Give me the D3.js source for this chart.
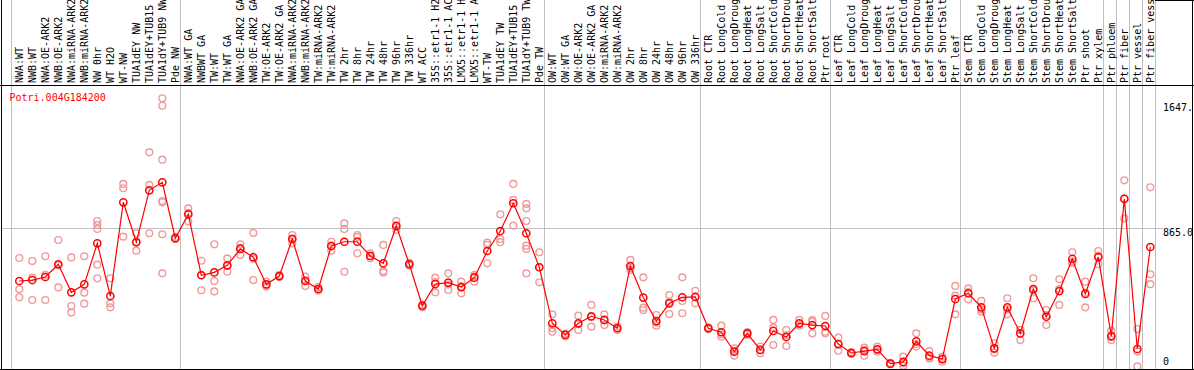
<!DOCTYPE html>
<html>
<head>
<meta charset="utf-8">
<script src="https://cdn.jsdelivr.net/npm/d3@7"></script>
<style>
  body { margin: 0; background: #fff; }
  text { font-family: "DejaVu Sans Mono", monospace; font-size: 10px; }
</style>
</head>
<body>
<svg id="chart" width="1194" height="370"></svg>
<script>
const geneName = "Potri.004G184200"

const categories = [
  "NWA:WT", "NWB:WT", "NWA:OE-ARK2", "NWB:OE-ARK2", "NWA:miRNA-ARK2", "NWB:miRNA-ARK2",
  "NW 0hr", "WT H2O", "WT-NW", "TUA1dEY NW", "TUA1dEY+TUB15 NW", "TUA1dY+TUB9 NW", "Pde NW",
  "NWA:WT GA", "NWBWT GA", "TW:WT", "TW:WT GA", "NWA:OE-ARK2 GA", "NWB:OE-ARK2 GA",
  "TW:OE-ARK2", "TW:OE-ARK2 GA", "NWA:miRNA-ARK2 GA", "NWB:miRNA-ARK2 GA", "TW:miRNA-ARK2",
  "TW:miRNA-ARK2 GA", "TW 2hr", "TW 8hr", "TW 24hr", "TW 48hr", "TW 96hr", "TW 336hr", "WT ACC",
  "35S::etr1-1 H2O", "35S::etr1-1 ACC", "LMX5::etr1-1 H2O", "LMX5::etr1-1 ACC", "WT-TW",
  "TUA1dEY TW", "TUA1dEY+TUB15 TW", "TUA1dY+TUB9 TW", "Pde TW",
  "OW:WT", "OW:WT GA", "OW:OE-ARK2", "OW:OE-ARK2 GA", "OW:miRNA-ARK2", "OW:miRNA-ARK2 GA",
  "OW 2hr", "OW 8hr", "OW 24hr", "OW 48hr", "OW 96hr", "OW 336hr",
  "Root CTR", "Root LongCold", "Root LongDrought", "Root LongHeat", "Root LongSalt",
  "Root ShortCold", "Root ShortDrought", "Root ShortHeat", "Root ShortSalt", "Ptr root",
  "Leaf CTR", "Leaf LongCold", "Leaf LongDrought", "Leaf LongHeat", "Leaf LongSalt",
  "Leaf ShortCold", "Leaf ShortDrought", "Leaf ShortHeat", "Leaf ShortSalt", "Ptr leaf",
  "Stem CTR", "Stem LongCold", "Stem LongDrought", "Stem LongHeat", "Stem LongSalt",
  "Stem ShortCold", "Stem ShortDrought", "Stem ShortHeat", "Stem ShortSalt", "Ptr shoot",
  "Ptr xylem", "Ptr phloem", "Ptr fiber", "Ptr vessel", "Ptr fiber vessel"
]

// mean expression per sample
const means = [
  535, 541, 560, 640, 464, 514, 771, 441, 1028, 779, 1103, 1153, 803,
  953, 571, 589, 633, 736, 684, 514, 566, 798, 535, 485, 754, 781, 781, 692, 646, 880, 640,
  380, 516, 525, 497, 556, 723, 848, 1022, 834, 621,
  270, 197, 270, 314, 291, 239, 629, 431, 284, 395, 433, 435,
  239, 214, 92, 207, 103, 222, 184, 270, 259, 253,
  140, 84, 96, 107, 17, 28, 157, 67, 46, 422,
  458, 370, 113, 370, 207, 485, 311, 472, 673, 454,
  685, 190, 1049, 109, 748
]

// individual replicates per sample
const replicates = [
  [679, 483, 433], [660, 556, 416], [690, 573, 416], [792, 633, 495], [683, 378, 337],
  [690, 462, 393], [911, 886, 861, 637, 552], [552, 395, 370], [1143, 1116, 813],
  [834, 778, 725], [1341, 1137, 834], [1680, 1633, 1295, 1036, 1028, 828, 583], [810, 800, 798],
  [990, 962, 907], [662, 573, 477], [765, 535, 470], [677, 629, 593], [765, 745, 698],
  [836, 675, 541], [531, 511, 500], [572, 566, 560], [823, 800, 771], [562, 539, 504],
  [497, 483, 475], [781, 756, 725], [896, 861, 593], [823, 811, 709], [709, 690, 677],
  [761, 598, 589], [911, 874, 855], [648, 640, 632], [387, 380, 370], [556, 528, 464],
  [583, 513, 479], [531, 502, 458], [573, 564, 531], [775, 761, 646], [953, 798, 778],
  [1143, 1043, 882], [1018, 990, 911, 756, 736, 583], [715, 621, 527],
  [326, 239, 217], [205, 197, 189], [318, 264, 228], [385, 308, 249], [326, 288, 259],
  [249, 239, 228], [667, 616, 604], [558, 368, 353], [322, 275, 255], [447, 405, 328],
  [558, 410, 333], [474, 436, 395],
  [245, 239, 233], [255, 201, 186], [113, 96, 67], [215, 207, 199], [124, 103, 82],
  [291, 243, 134], [228, 196, 128], [291, 264, 255], [290, 280, 207], [316, 217, 207],
  [180, 142, 98], [90, 84, 78], [117, 104, 67], [124, 105, 92], [22, 17, 12],
  [61, 20, 3], [207, 140, 124], [96, 55, 50], [61, 48, 29], [504, 443, 326],
  [489, 465, 420], [410, 357, 343], [145, 108, 86], [427, 357, 326], [228, 228, 165],
  [552, 476, 427], [353, 321, 259], [546, 485, 385], [715, 656, 648], [531, 461, 370],
  [723, 692, 640], [222, 183, 165], [1166, 1053, 928], [234, 93, 0], [1122, 577, 515]
]

// index of the last sample in each group (a grey separator follows it)
const groupEnds = [12, 40, 52, 62, 72, 83, 84, 85, 86, 87]

const yTicks = [0, 865.0, 1647.4]
const yTickLabels = ["0", "865.0", "1647.4"]

var svg = d3.select('#chart')

var x = d3.scaleBand()
  .domain(d3.range(categories.length))
  .range([11, 1155])
var px = (i) => x(i) + 8.3

var y = d3.scaleLinear()
  .domain([0, 1647])
  .range([366.4, 103.5])

svg.append('defs').append('clipPath')
  .attr('id', 'plotclip')
  .append('rect')
  .attr('x', 2).attr('y', 86)
  .attr('width', 1190).attr('height', 283)

svg.append('defs').append('clipPath')
  .attr('id', 'frameclip')
  .append('rect')
  .attr('x', 2).attr('y', 0)
  .attr('width', 1190).attr('height', 369)

// grey separators between sample groups
var seps = [x(0)].concat(groupEnds.map(i => x(i) + x.bandwidth()))
svg.selectAll('.sep')
  .data(seps)
  .enter().append('line')
  .attr('class', 'sep')
  .attr('x1', d => Math.round(d) + 0.5)
  .attr('x2', d => Math.round(d) + 0.5)
  .attr('y1', 0)
  .attr('y2', 369)
  .attr('stroke', '#c0c0c0')
  .attr('stroke-width', 1)

// horizontal reference line
svg.append('line')
  .attr('x1', 2)
  .attr('x2', 1163)
  .attr('y1', Math.round(y(yTicks[1])) + 0.5)
  .attr('y2', Math.round(y(yTicks[1])) + 0.5)
  .attr('stroke', '#c0c0c0')

// sample labels, rotated
svg.append('g')
  .selectAll('text')
  .data(categories)
  .enter().append('text')
  .attr('transform', (d, i) => 'translate(' + (px(i) + 3.5) + ',83) rotate(-90)')
  .attr('fill', '#000')
  .text(d => d)

var plot = svg.append('g').attr('clip-path', 'url(#plotclip)')

// replicate points
var reps = []
replicates.forEach((r, i) => r.forEach(v => reps.push({ i: i, v: v })))
plot.selectAll('.rep')
  .data(reps)
  .enter().append('circle')
  .attr('class', 'rep')
  .attr('cx', d => px(d.i))
  .attr('cy', d => y(d.v))
  .attr('r', 3.4)
  .attr('fill', 'none')
  .attr('stroke', '#f09a9a')
  .attr('stroke-width', 1.4)

// mean line
plot.append('path')
  .datum(means)
  .attr('fill', 'none')
  .attr('stroke', '#ff0000')
  .attr('stroke-width', 1.2)
  .attr('d', d3.line().x((d, i) => px(i)).y(d => y(d)))

plot.selectAll('.mean')
  .data(means)
  .enter().append('circle')
  .attr('class', 'mean')
  .attr('cx', (d, i) => px(i))
  .attr('cy', d => y(d))
  .attr('r', 3.6)
  .attr('fill', 'none')
  .attr('stroke', '#ff0000')
  .attr('stroke-width', 1.5)

plot.append('text')
  .attr('x', 9.5)
  .attr('y', 101)
  .attr('fill', '#ff0000')
  .text(geneName)

// value labels on the right
svg.append('g')
  .attr('clip-path', 'url(#frameclip)')
  .selectAll('text')
  .data(yTicks)
  .enter().append('text')
  .attr('x', 1163)
  .attr('y', (d, i) => i == 0 ? y(d) - 1.2 : y(d) + 7.5)
  .attr('fill', '#000')
  .text((d, i) => yTickLabels[i])

// frame
svg.append('line').attr('x1', 0).attr('x2', 1194).attr('y1', 85.5).attr('y2', 85.5).attr('stroke', '#000')
svg.append('line').attr('x1', 0).attr('x2', 1194).attr('y1', 369.5).attr('y2', 369.5).attr('stroke', '#000')
svg.append('line').attr('x1', 1155).attr('x2', 1194).attr('y1', 0.5).attr('y2', 0.5).attr('stroke', '#000')
svg.append('line').attr('x1', 1.5).attr('x2', 1.5).attr('y1', 0).attr('y2', 370).attr('stroke', '#000')
svg.append('line').attr('x1', 1192.5).attr('x2', 1192.5).attr('y1', 0).attr('y2', 370).attr('stroke', '#000')
</script>
</body>
</html>
